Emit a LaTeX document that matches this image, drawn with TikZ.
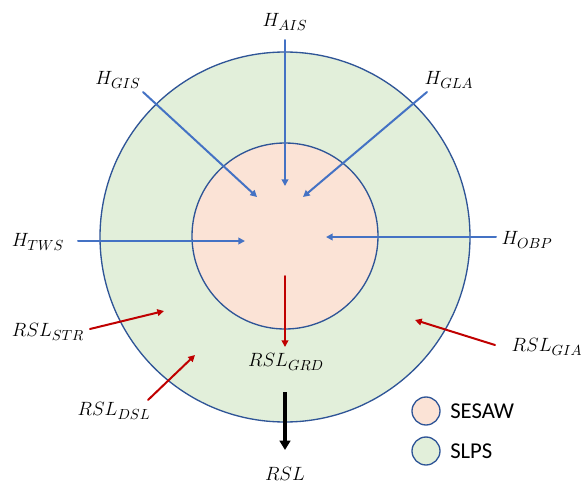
\documentclass[tikz,border=0pt]{standalone}
\usepackage{fontspec}
\setsansfont{Carlito}
\usetikzlibrary{arrows.meta}
\definecolor{ringblue}{HTML}{2F5597}
\definecolor{flowblue}{HTML}{4472C4}
\definecolor{flowred}{HTML}{C00000}
\definecolor{sesawfill}{HTML}{FBE3D6}
\definecolor{slpsfill}{HTML}{E2EFDA}
\tikzset{
  ring/.style={draw=ringblue, line width=1pt},
  inflow/.style={draw=flowblue, line width=1.5pt, -{Triangle[length=5pt,width=5pt]}},
  slflow/.style={draw=flowred, line width=1.5pt, -{Triangle[length=5pt,width=5pt]}},
  total/.style={draw=black, line width=2.6pt, -{Triangle[length=7pt,width=8pt]}},
  lab/.style={font=\fontsize{15}{18}\selectfont, inner sep=1pt},
  keytext/.style={font=\sffamily\fontsize{17}{20}\selectfont, anchor=west, inner sep=0pt}
}
\begin{document}
\begin{tikzpicture}[x=0.75pt, y=-0.75pt, line join=round, line cap=round]
\useasboundingbox (0,0) rectangle (583,486);

% the two shells
\coordinate (O) at (285,237);
\filldraw[ring, fill=slpsfill] (O) circle (185);
\filldraw[ring, fill=sesawfill] (285,236) circle (93);

% labels
\node[lab] (hais) at (285,22) {$H_{AIS}$};
\node[lab] (hgis) at (118,80) {$H_{GIS}$};
\node[lab] (hgla) at (449,80) {$H_{GLA}$};
\node[lab] (htws) at (38,242) {$H_{TWS}$};
\node[lab] (hobp) at (527,240) {$H_{OBP}$};
\node[lab] (rstr) at (48,332) {$RSL_{STR}$};
\node[lab] (rdsl) at (114,411) {$RSL_{DSL}$};
\node[lab] (rgia) at (547,347) {$RSL_{GIA}$};
\node[lab] (rgrd) at (286,362) {$RSL_{GRD}$};
\node[lab] (rsl) at (285,474) {$RSL$};

% start and end points
\coordinate (a0) at (285,40);   \coordinate (a1) at (285,186);
\coordinate (g0) at (143,92);   \coordinate (g1) at (257,197);
\coordinate (l0) at (427,92);   \coordinate (l1) at (303,197);
\coordinate (t0) at (78,241);   \coordinate (t1) at (245,241);
\coordinate (o0) at (496,237);  \coordinate (o1) at (326,237);
\coordinate (s0) at (90,329);   \coordinate (s1) at (164,311);
\coordinate (d0) at (148,400);  \coordinate (d1) at (195,355);
\coordinate (i0) at (495,345);  \coordinate (i1) at (415,320);
\coordinate (r0) at (285,276);  \coordinate (r1) at (285,347);
\coordinate (b0) at (285,392);  \coordinate (b1) at (285,450);

\foreach \i in {a,g,l,t,o}
    \draw[inflow] (\i0)--(\i1);
\foreach \i in {s,d,i,r}
    \draw[slflow] (\i0)--(\i1);
\draw[total, line cap=butt] (b0)--(b1);

% legend
\filldraw[ring, fill=sesawfill] (426,411) circle (14);
\filldraw[ring, fill=slpsfill] (426,451) circle (14);
\node[keytext] (ksesaw) at (450,411) {SESAW};
\node[keytext] (kslps) at (450,451) {SLPS};
\end{tikzpicture}
\end{document}
